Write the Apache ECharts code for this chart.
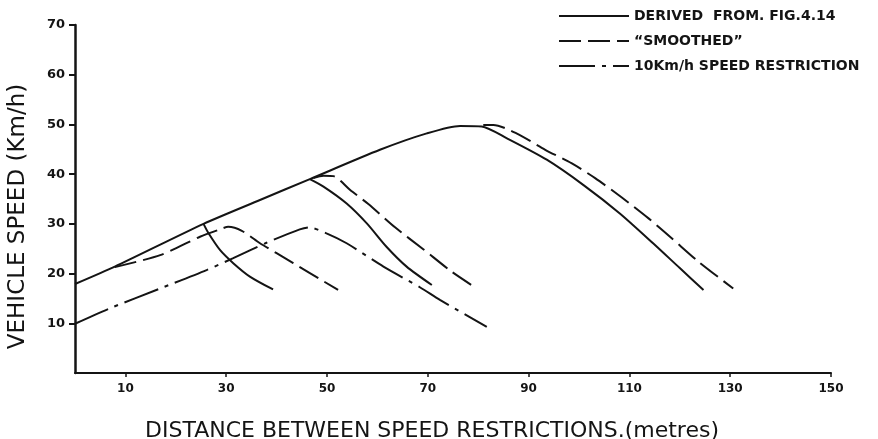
<!DOCTYPE html>
<html>
<head>
<meta charset="utf-8">
<script src="https://cdn.jsdelivr.net/npm/echarts@6/dist/echarts.min.js"></script>
<style>html,body{margin:0;padding:0;background:#fff;}#chart{width:878px;height:439px;}</style>
</head>
<body>
<div id="chart"></div>
<script>
// ---- tick labels ----
const xTickValues = [10, 30, 50, 70, 90, 110, 130, 150];
const yTickValues = [10, 20, 30, 40, 50, 60, 70];

// ---- series names ----
const nameDerived = 'DERIVED  FROM. FIG.4.14';
const nameSmoothed = '\u201CSMOOTHED\u201D';
const nameRestriction = '10Km/h SPEED RESTRICTION';

// ---- data: [distance (m), speed (km/h)] ----
const derivedMain = [[0,17.9],[7.9,21.4],[25.5,30.0],[36.7,34.8],[46.6,39.0],[60.5,44.9],[69.8,48.2],[76.4,49.7],[80.7,49.6],[85.7,47.2],[93.6,42.9],[100.9,37.8],[108.1,32.1],[114.7,26.1],[120.0,21.1],[124.7,16.7]];
const derivedBranch1 = [[25.5,30.0],[26.5,28.1],[28.8,24.7],[31.4,22.1],[34.7,19.4],[39.3,16.8]];
const derivedBranch2 = [[46.6,39.0],[49.3,37.5],[53.9,34.1],[57.9,30.1],[61.8,25.4],[65.8,21.4],[70.8,17.7]];

const smoothed1 = [[7.9,21.3],[16.9,23.7],[24.8,27.4],[28.8,28.9],[30.4,29.4],[33.1,28.6],[36.7,26.1],[40.0,24.1],[43.3,22.1],[46.6,20.1],[52.2,16.7]];
const smoothed2 = [[47.3,39.2],[49.3,39.7],[51.3,39.6],[54.6,36.8],[58.2,34.0],[63.5,29.3],[69.1,24.9],[74.7,20.4],[79.7,17.0]];
const smoothed3 = [[81.0,49.9],[83.0,49.9],[87.6,48.2],[93.3,44.9],[98.5,42.2],[103.2,39.2],[108.5,35.3],[113.8,31.1],[118.4,27.1],[123.7,22.4],[130.6,17.0]];

const restriction = [[0,9.9],[6.9,13.0],[16.9,17.0],[26.1,20.7],[31.4,23.1],[38.0,26.2],[44.6,28.9],[46.4,29.3],[49.9,28.1],[53.9,26.1],[61.2,21.4],[68.5,17.2],[72.4,14.7],[81.7,9.3]];

const INK = '#141414';
const FONT = 'DejaVu Sans';
const DASHED = [22, 7];
const DASH_DOT = [36, 7, 4, 7];

function lineSeries(name, data, dash) {
  return {
    type: 'line',
    name: name,
    data: data,
    symbol: 'none',
    smooth: 0.25,
    lineStyle: { color: INK, width: 2, type: dash },
    itemStyle: { color: INK, opacity: 0 },
    emphasis: { disabled: true },
    z: 3
  };
}

const chart = echarts.init(document.getElementById('chart'));
chart.setOption({
  backgroundColor: '#ffffff',
  animation: false,
  grid: { left: 75, right: 47, top: 25, bottom: 66, containLabel: false, outerBoundsMode: 'none' },
  legend: {
    orient: 'vertical',
    left: 558,
    top: 9,
    itemWidth: 70,
    itemHeight: 14,
    itemGap: 11,
    padding: 0,
    selectedMode: false,
    data: [nameDerived, nameSmoothed, nameRestriction],
    itemStyle: { opacity: 0 },
    textStyle: { fontFamily: FONT, fontWeight: 'bold', fontSize: 14, color: INK }
  },
  xAxis: {
    type: 'value',
    min: 0,
    max: 150,
    name: 'DISTANCE BETWEEN SPEED RESTRICTIONS.(metres)',
    nameLocation: 'middle',
    nameGap: 47,
    nameTextStyle: { fontFamily: FONT, fontSize: 22, color: INK, padding: [0, 42, 0, 0] },
    axisLine: { show: true, lineStyle: { color: INK, width: 2 } },
    axisTick: { show: true, customValues: xTickValues, length: 4, lineStyle: { color: INK, width: 1.5 } },
    axisLabel: { customValues: xTickValues, margin: 10, fontFamily: FONT, fontWeight: 'bold', fontSize: 12, color: INK },
    splitLine: { show: false }
  },
  yAxis: {
    type: 'value',
    min: 0,
    max: 70,
    name: 'VEHICLE SPEED (Km/h)',
    nameLocation: 'middle',
    nameGap: 45,
    nameTextStyle: { fontFamily: FONT, fontSize: 23, color: INK, padding: [0, 35, 0, 0] },
    axisLine: { show: true, lineStyle: { color: INK, width: 2.5 } },
    axisTick: { show: true, customValues: yTickValues, length: 6, lineStyle: { color: INK, width: 2 } },
    axisLabel: { customValues: yTickValues, margin: 10, fontFamily: FONT, fontWeight: 'bold', fontSize: 13, color: INK },
    splitLine: { show: false }
  },
  series: [
    lineSeries(nameDerived, derivedMain, 'solid'),
    lineSeries(nameDerived, derivedBranch1, 'solid'),
    lineSeries(nameDerived, derivedBranch2, 'solid'),
    lineSeries(nameSmoothed, smoothed1, DASHED),
    lineSeries(nameSmoothed, smoothed2, DASHED),
    lineSeries(nameSmoothed, smoothed3, DASHED),
    lineSeries(nameRestriction, restriction, DASH_DOT)
  ]
});
</script>
</body>
</html>
